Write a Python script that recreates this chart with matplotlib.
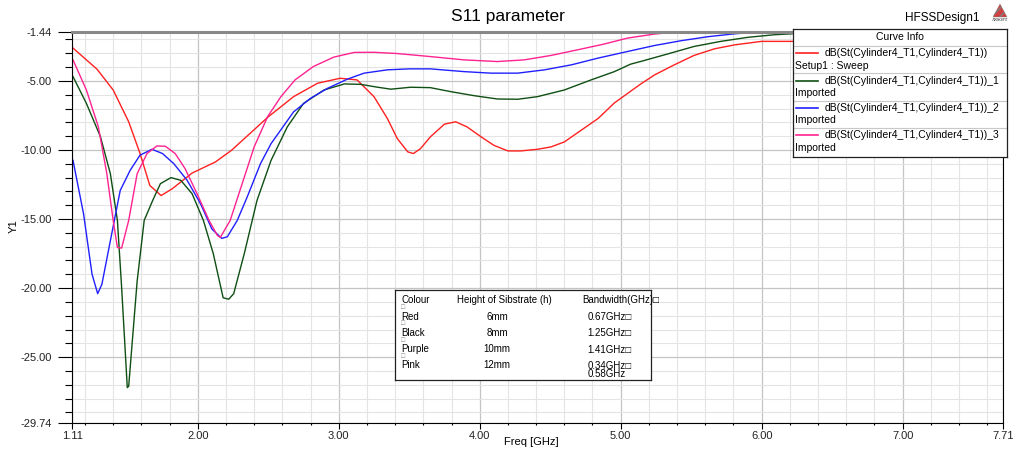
import numpy as np
import matplotlib
matplotlib.use("Agg")
import matplotlib.pyplot as plt
from matplotlib.ticker import FixedLocator, MultipleLocator
from matplotlib.patches import Polygon

plt.rcParams['font.family'] = ['Liberation Sans', 'DejaVu Sans']

# ----------------------------------------------------------------------------- data
red_f = [1.11, 1.285, 1.40, 1.51, 1.59, 1.66, 1.74, 1.82, 1.96, 2.125, 2.24, 2.37, 2.50,
         2.68, 2.85, 3.01, 3.13, 3.25, 3.345, 3.415, 3.49, 3.53, 3.58, 3.65, 3.75, 3.83,
         3.91, 4.01, 4.10, 4.20, 4.29, 4.41, 4.505, 4.60, 4.72, 4.84, 4.955, 5.05, 5.14,
         5.24, 5.38, 5.52, 5.665, 5.81, 6.0, 6.22, 6.6, 7.2, 7.71]
red_db = [-2.58, -4.15, -5.66, -7.96, -10.24, -12.57, -13.3, -12.8, -11.67, -10.87, -10.02,
          -8.81, -7.6, -6.14, -5.17, -4.81, -4.93, -6.14, -7.72, -9.17, -10.14, -10.26, -9.9,
          -9.05, -8.13, -7.96, -8.33, -9.05, -9.66, -10.07, -10.07, -9.95, -9.78, -9.42,
          -8.57, -7.72, -6.6, -5.9, -5.24, -4.57, -3.84, -3.16, -2.68, -2.39, -2.14, -2.14,
          -2.2, -2.3, -2.4]

green_f = [1.115, 1.21, 1.31, 1.38, 1.43, 1.46, 1.50, 1.51, 1.57, 1.62, 1.68, 1.735, 1.81,
           1.88, 1.96, 2.04, 2.11, 2.18, 2.22, 2.255, 2.33, 2.42, 2.52, 2.635, 2.75, 2.895,
           3.04, 3.155, 3.27, 3.37, 3.51, 3.65, 3.795, 3.96, 4.125, 4.27, 4.41, 4.60, 4.79,
           4.955, 5.07, 5.14, 5.33, 5.52, 5.71, 5.90, 6.09, 6.22, 6.7, 7.2, 7.71]
green_db = [-4.69, -6.63, -9.05, -11.72, -15.1, -19.96, -27.2, -27.1, -19.5, -15.1, -13.66,
            -12.44, -12.0, -12.2, -13.17, -15.1, -17.5, -20.7, -20.8, -20.4, -17.5, -13.66,
            -10.75, -8.33, -6.63, -5.66, -5.22, -5.25, -5.45, -5.6, -5.46, -5.49, -5.78,
            -6.07, -6.31, -6.33, -6.14, -5.66, -4.93, -4.33, -3.79, -3.6, -3.06, -2.51,
            -2.14, -1.85, -1.66, -1.59, -1.5, -1.45, -1.45]

blue_f = [1.115, 1.19, 1.25, 1.29, 1.32, 1.38, 1.45, 1.52, 1.59, 1.675, 1.75, 1.83, 1.925,
          2.02, 2.10, 2.17, 2.21, 2.28, 2.35, 2.445, 2.52, 2.68, 2.80, 2.92, 3.06, 3.18,
          3.345, 3.50, 3.65, 3.89, 4.08, 4.27, 4.46, 4.65, 4.84, 5.05, 5.24, 5.43, 5.62,
          5.81, 6.0, 6.22, 6.7, 7.2, 7.71]
blue_db = [-10.75, -14.63, -18.99, -20.4, -19.72, -16.57, -12.93, -11.48, -10.38, -9.95,
           -10.26, -10.99, -12.2, -13.9, -15.72, -16.4, -16.28, -15.1, -13.42, -10.99, -9.54,
           -7.24, -6.26, -5.54, -4.88, -4.44, -4.2, -4.13, -4.13, -4.33, -4.44, -4.44, -4.2,
           -3.84, -3.35, -2.87, -2.44, -2.09, -1.80, -1.59, -1.45, -1.42, -1.35, -1.3, -1.3]

pink_f = [1.115, 1.21, 1.295, 1.355, 1.40, 1.43, 1.46, 1.51, 1.57, 1.64, 1.71, 1.77, 1.84,
          1.91, 1.995, 2.08, 2.14, 2.16, 2.23, 2.315, 2.40, 2.495, 2.59, 2.69, 2.82, 2.965,
          3.11, 3.25, 3.415, 3.65, 3.89, 4.125, 4.315, 4.505, 4.695, 4.88, 5.05, 5.24, 5.43,
          5.8, 6.3, 7.0, 7.71]
pink_db = [-3.48, -5.66, -8.33, -11.72, -15.1, -17.06, -17.1, -15.1, -11.72, -10.26, -9.71,
           -9.73, -10.26, -11.35, -13.17, -15.1, -16.2, -16.33, -15.1, -12.44, -9.78, -7.6,
           -6.14, -4.93, -3.96, -3.28, -2.94, -2.93, -3.02, -3.24, -3.48, -3.6, -3.48, -3.16,
           -2.75, -2.34, -1.90, -1.61, -1.42, -1.3, -1.2, -1.2, -1.2]

curve_names = ["dB(St(Cylinder4_T1,Cylinder4_T1))",
               "dB(St(Cylinder4_T1,Cylinder4_T1))_1",
               "dB(St(Cylinder4_T1,Cylinder4_T1))_2",
               "dB(St(Cylinder4_T1,Cylinder4_T1))_3"]
curve_sub = ["Setup1 : Sweep", "Imported", "Imported", "Imported"]
colors = ["#ff2020", "#0f4f14", "#2020ff", "#ff2290"]

x_ticks = [1.11, 2.00, 3.00, 4.00, 5.00, 6.00, 7.00, 7.71]
y_ticks = [-29.74, -25.00, -20.00, -15.00, -10.00, -5.00, -1.44]

tab_colour = ["Red", "Black", "Purple", "Pink"]
tab_height = ["6mm", "8mm", "10mm", "12mm"]
tab_bw = ["0.67GHz\u25a1", "1.25GHz\u25a1", "1.41GHz\u25a1", "0.34GHz\u25a1\n0.58GHz"]

# ----------------------------------------------------------------------------- figure
W, H = 1016, 454
fig = plt.figure(figsize=(W / 100, H / 100), dpi=100)


def px_axes(x0, y0, x1, y1, **kw):
    # axes from a pixel box (origin top-left)
    return fig.add_axes([x0 / W, 1 - y1 / H, (x1 - x0) / W, (y1 - y0) / H], **kw)


ax = px_axes(72.3, 31.7, 1002.7, 422.7)

series = [(red_f, red_db), (green_f, green_db), (blue_f, blue_db), (pink_f, pink_db)]
for (f, d), c in zip(series, colors):
    ax.plot(f, d, color=c, lw=1.0)

ax.set_xlim(1.11, 7.71)
ax.set_ylim(-29.74, -1.44)
ax.xaxis.set_major_locator(FixedLocator(x_ticks))
ax.yaxis.set_major_locator(FixedLocator(y_ticks))
ax.xaxis.set_minor_locator(MultipleLocator(0.2))
ax.yaxis.set_minor_locator(MultipleLocator(1.0))
ax.set_xticklabels(["%.2f" % v for v in x_ticks])
ax.set_yticklabels(["%.2f" % v for v in y_ticks])

ax.grid(which="minor", color="#e4e4e4", lw=0.8)
ax.grid(which="major", color="#c4c4c4", lw=0.9)
ax.set_axisbelow(True)

ax.tick_params(axis="y", which="major", length=10, width=0.8, labelsize=8, pad=5)
ax.tick_params(axis="y", which="minor", length=5, width=0.8)
ax.tick_params(axis="x", which="major", length=4.3, width=0.8, labelsize=8, pad=1.5)
ax.tick_params(axis="x", which="minor", length=1.6, width=0.8)
for lab in ax.get_xticklabels() + ax.get_yticklabels():
    lab.set_color("#222222")

ax.spines["top"].set_color("#888888")
ax.spines["top"].set_linewidth(2.2)
for s in ["left", "bottom", "right"]:
    ax.spines[s].set_color("black")
    ax.spines[s].set_linewidth(0.8)

fig.text(508 / W, 1 - 17 / H, "S11 parameter", ha="center", va="center", fontsize=12.5)
fig.text(942 / W, 1 - 17.5 / H, "HFSSDesign1", ha="center", va="center", fontsize=8.5)
fig.text(531 / W, 1 - 442 / H, "Freq [GHz]", ha="center", va="center", fontsize=8)
fig.text(14 / W, 1 - 226 / H, "Y1", ha="center", va="center", fontsize=8, rotation=90)

# ansoft logo
tri = [(1000 / W, 1 - 4 / H), (993 / W, 1 - 17 / H), (1007 / W, 1 - 17 / H)]
fig.patches.append(Polygon(tri, closed=True, transform=fig.transFigure,
                           facecolor="#d04040", edgecolor="#808080", hatch="////", lw=0.3))
fig.text(1000 / W, 1 - 20 / H, "ANSOFT", ha="center", va="center", fontsize=3,
         family="Liberation Serif", weight="bold", color="#444444")

# ----------------------------------------------------------------------------- curve info box
lg = px_axes(792.7, 29.3, 1007.3, 156.7, zorder=5)
lg.set_xlim(0, 214.6)
lg.set_ylim(127.4, 0)
lg.set_xticks([])
lg.set_yticks([])
for s in lg.spines.values():
    s.set_linewidth(0.9)
    s.set_color("#222222")
lg.text(107, 8.2, "Curve Info", ha="center", va="center", fontsize=7.5)
lg.axhline(16.7, color="#c8c8c8", lw=0.8)
for i in range(4):
    top = 16.7 + 27.4 * i
    if i > 0:
        lg.axhline(top, color="#c8c8c8", lw=0.8)
    lg.plot([3.3, 25.3], [top + 7.3, top + 7.3], color=colors[i], lw=1.2)
    lg.text(32.3, top + 7.3, curve_names[i], ha="left", va="center", fontsize=7.5)
    lg.text(2.3, top + 19.7, curve_sub[i], ha="left", va="center", fontsize=7.5)

# ----------------------------------------------------------------------------- table box
tb = px_axes(395, 290, 651, 380, zorder=5)
tb.set_xlim(0, 256)
tb.set_ylim(90, 0)
tb.set_xticks([])
tb.set_yticks([])
for s in tb.spines.values():
    s.set_linewidth(0.9)
    s.set_color("#222222")
fs = 7
tb.text(6, 10, "Colour", ha="left", va="center", fontsize=fs)
tb.text(61.7, 10, "Height of Sibstrate (h)", ha="left", va="center", fontsize=fs)
tb.text(187.7, 10, "Bandwidth(GHz)\u25a1", ha="left", va="center", fontsize=fs)
for i in range(4):
    yy = 26.7 + 16.2 * i
    tb.text(6, yy - 9, "\u25a1", ha="left", va="center", fontsize=5, color="#888888")
    tb.text(6, yy, tab_colour[i], ha="left", va="center", fontsize=fs)
    tb.text(102, yy, tab_height[i], ha="center", va="center", fontsize=fs)
    tb.text(192.5, yy - 4.5, tab_bw[i], ha="left", va="top", fontsize=fs, linespacing=0.8)

fig.savefig("out.png", dpi=100)
